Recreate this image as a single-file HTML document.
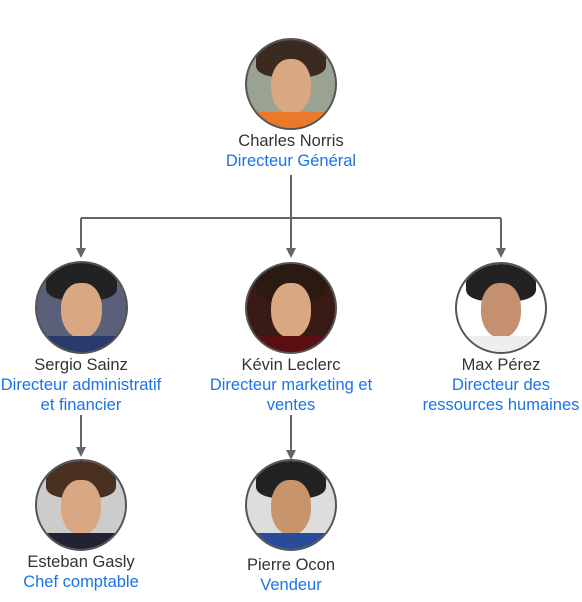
<!DOCTYPE html>
<html><head><meta charset="utf-8"><style>
body{margin:0;background:#fff;width:582px;height:602px;position:relative;overflow:hidden;font-family:"Liberation Sans",sans-serif}
.c{position:absolute;border-radius:50%;border:2px solid #555;box-sizing:border-box;overflow:hidden;background:#c9c4b8}
.c .h{position:absolute;left:10%;top:0;width:80%;height:42%;background:#3b2a20;border-radius:50% 50% 30% 30%}
.c .f{position:absolute;left:27%;top:22%;width:46%;height:62%;background:#d9a882;border-radius:45% 45% 48% 48%}
.c .b{position:absolute;left:0;top:82%;width:100%;height:30%;background:#333}
.t{position:absolute;text-align:center;font-size:16.5px;line-height:20px;width:220px}
.n{color:#333}.r{color:#1a73e8}
</style></head><body>
<svg width="582" height="602" style="position:absolute;left:0;top:0">
<g stroke="#666" stroke-width="2" fill="none">
<path d="M291 175V218M81 218H501M81 218V250M291 218V250M501 218V250M81 415V450M291 415V452"/>
</g>
<g fill="#666">
<path d="M76 248H86L81 258Z"/><path d="M286 248H296L291 258Z"/><path d="M496 248H506L501 258Z"/>
<path d="M76 447H86L81 457Z"/><path d="M286 450H296L291 460Z"/>
</g></svg>
<div class="c" style="left:245px;top:38px;width:92px;height:92px;background:#9aa291"><div class="h"></div><div class="f"></div><div class="b" style="background:#e87a2a"></div></div>
<div class="c" style="left:35px;top:261px;width:93px;height:93px;background:#5a5f7a"><div class="h" style="background:#222"></div><div class="f"></div><div class="b" style="background:#2a3a6a"></div></div>
<div class="c" style="left:245px;top:262px;width:92px;height:92px;background:#3a1a14"><div class="h" style="background:#2a1a12"></div><div class="f"></div><div class="b" style="background:#5a1010"></div></div>
<div class="c" style="left:455px;top:262px;width:92px;height:92px;background:#fff"><div class="h" style="background:#222"></div><div class="f" style="background:#c49070"></div><div class="b" style="background:#eee"></div></div>
<div class="c" style="left:35px;top:459px;width:92px;height:92px;background:#ccc"><div class="h" style="background:#4a3020"></div><div class="f"></div><div class="b" style="background:#223"></div></div>
<div class="c" style="left:245px;top:459px;width:92px;height:92px;background:#ddd"><div class="h" style="background:#222"></div><div class="f" style="background:#c8946c"></div><div class="b" style="background:#2a4a9a"></div></div>
<div class="t" style="left:181px;top:131px"><div class="n">Charles Norris</div><div class="r">Directeur Général</div></div>
<div class="t" style="left:-29px;top:355px"><div class="n">Sergio Sainz</div><div class="r">Directeur administratif<br>et financier</div></div>
<div class="t" style="left:181px;top:355px"><div class="n">Kévin Leclerc</div><div class="r">Directeur marketing et<br>ventes</div></div>
<div class="t" style="left:391px;top:355px"><div class="n">Max Pérez</div><div class="r">Directeur des<br>ressources humaines</div></div>
<div class="t" style="left:-29px;top:552px"><div class="n">Esteban Gasly</div><div class="r">Chef comptable</div></div>
<div class="t" style="left:181px;top:555px"><div class="n">Pierre Ocon</div><div class="r">Vendeur</div></div>
</body></html>
